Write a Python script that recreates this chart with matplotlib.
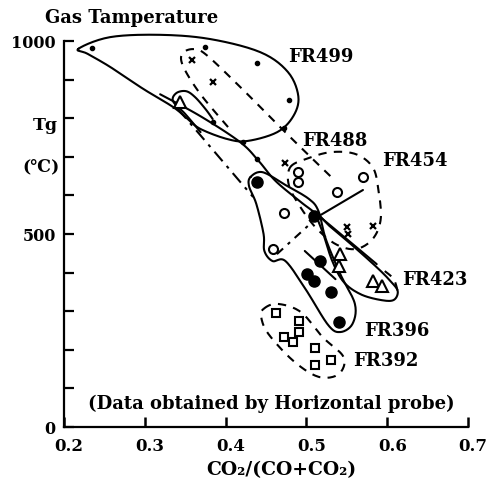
import numpy as np
import matplotlib
matplotlib.use("Agg")
import matplotlib.pyplot as plt
from matplotlib.transforms import ScaledTranslation

# ---------------- data ----------------
# FR499: small dots
fr499_x = [0.235, 0.374, 0.439, 0.479, 0.472, 0.384, 0.421, 0.439]
fr499_y = [982, 984, 943, 847, 775, 790, 738, 694]
# FR488: crosses
fr488_x = [0.359, 0.384, 0.474, 0.550, 0.552, 0.583]
fr488_y = [951, 894, 684, 518, 500, 521]
# FR454: open circles
fr454_x = [0.489, 0.489, 0.570, 0.538, 0.472, 0.459]
fr454_y = [661, 635, 648, 609, 554, 461]
# FR396: filled circles
fr396_x = [0.439, 0.509, 0.517, 0.501, 0.509, 0.530, 0.540]
fr396_y = [635, 547, 430, 396, 378, 350, 272]
# FR423: open triangles
fr423_x = [0.344, 0.542, 0.540, 0.582, 0.594]
fr423_y = [842, 448, 417, 378, 365]
# FR392: open squares
fr392_x = [0.462, 0.491, 0.491, 0.472, 0.483, 0.511, 0.530, 0.511]
fr392_y = [295, 275, 246, 233, 220, 205, 174, 161]

# hand-drawn group outlines (data units)
out499_x = [0.218, 0.257, 0.319, 0.381, 0.443, 0.477, 0.490, 0.484, 0.464, 0.427,
            0.402, 0.369, 0.353, 0.335, 0.298, 0.257, 0.229]
out499_y = [980, 1010, 1016, 1005, 971, 920, 857, 806, 764, 741,
            746, 772, 798, 829, 876, 933, 967]
out396_x = [0.431, 0.446, 0.474, 0.503, 0.515, 0.524, 0.542, 0.560, 0.557, 0.542,
            0.527, 0.499, 0.474, 0.458, 0.448, 0.447, 0.438, 0.429]
out396_y = [648, 660, 627, 591, 559, 487, 396, 319, 267, 246,
            264, 357, 430, 430, 456, 500, 578, 624]
out423_x = [0.512, 0.521, 0.532, 0.546, 0.567, 0.592, 0.608, 0.613, 0.604, 0.587,
            0.555, 0.530]
out423_y = [554, 500, 430, 376, 344, 329, 329, 352, 378, 414, 474, 518]
out454_x = [0.480, 0.499, 0.530, 0.561, 0.582, 0.589, 0.592, 0.582, 0.561, 0.536,
            0.511, 0.490, 0.478]
out454_y = [673, 694, 712, 707, 673, 616, 539, 487, 461, 474, 518, 578, 629]
out392_x = [0.447, 0.464, 0.493, 0.520, 0.546, 0.540, 0.515, 0.484, 0.453, 0.444]
out392_y = [306, 319, 298, 233, 181, 137, 130, 171, 241, 285]
out488_x = [0.403, 0.369, 0.348, 0.346, 0.359, 0.375, 0.418, 0.480, 0.536]
out488_y = [777, 862, 932, 966, 979, 966, 881, 751, 637]
hook_x = [0.369, 0.350, 0.335, 0.339, 0.351, 0.362, 0.375, 0.384]
hook_y = [764, 811, 844, 865, 870, 855, 824, 798]
arc423_x = [0.597, 0.608, 0.613]
arc423_y = [404, 383, 352]

# trend lines
trend_x = [0.319, 0.369, 0.418, 0.441, 0.462, 0.493, 0.517, 0.587]
trend_y = [862, 805, 738, 689, 637, 583, 544, 422]
line2_x = [0.341, 0.434]
line2_y = [824, 596]
line3_x = [0.498, 0.536]
line3_y = [456, 383]
line4_x = [0.515, 0.570]
line4_y = [546, 614]
line4b_x = [0.515, 0.462]
line4b_y = [546, 445]

labels = ["FR499", "FR488", "FR454", "FR423", "FR396", "FR392"]
label_x = [0.478, 0.495, 0.594, 0.619, 0.571, 0.558]
label_y = [961, 743, 692, 383, 251, 174]

xticks = [0.2, 0.3, 0.4, 0.5, 0.6, 0.7]
yticks = list(range(0, 1001, 100))
ytick_labels = ["0", "", "", "", "", "500", "", "", "", "", "1000"]


def cr(x, y, closed=True, n=14):
    P = np.column_stack([x, y]).astype(float)
    m = len(P)
    if not closed:
        P = np.vstack([P[0], P, P[-1]])
    segs = []
    rng = range(m) if closed else range(1, m)
    for i in rng:
        if closed:
            p0, p1, p2, p3 = P[(i - 1) % m], P[i], P[(i + 1) % m], P[(i + 2) % m]
        else:
            p0, p1, p2, p3 = P[i - 1], P[i], P[i + 1], P[i + 2]
        t = np.linspace(0, 1, n, endpoint=False)[:, None]
        segs.append(0.5 * (2 * p1 + (-p0 + p2) * t + (2 * p0 - 5 * p1 + 4 * p2 - p3) * t ** 2
                           + (-p0 + 3 * p1 - 3 * p2 + p3) * t ** 3))
    pts = np.vstack(segs + [segs[0][:1]] if closed else segs + [P[-2][None, :]])
    return pts[:, 0], pts[:, 1]


fam = ["DejaVu Serif"]
fig = plt.figure(figsize=(4.98, 4.81), dpi=100)
ax = fig.add_axes([64 / 498, 1 - 428 / 481, 404 / 498, 386 / 481])

ax.set_xlim(0.2, 0.7)
ax.set_ylim(0, 1000)
for s in ("top", "right"):
    ax.spines[s].set_visible(False)
for s in ("left", "bottom"):
    ax.spines[s].set_linewidth(1.6)

ax.set_xticks(xticks)
ax.set_xticklabels([f"{v:.1f}" for v in xticks], fontfamily=fam, fontweight="bold", fontsize=12)
ax.set_yticks(yticks)
ax.set_yticklabels(ytick_labels, fontfamily=fam, fontweight="bold", fontsize=11.5)
ax.tick_params(axis="x", direction="in", length=7, width=1.8, pad=7)
ax.tick_params(axis="y", direction="in", length=7, width=1.6, pad=6)
shift = ScaledTranslation(5 / 100, 0, fig.dpi_scale_trans)
for lab in ax.get_xticklabels():
    lab.set_transform(lab.get_transform() + shift)

solid = dict(color="black", lw=1.5, clip_on=False, solid_capstyle="round")
dash = dict(color="black", lw=1.5, clip_on=False, linestyle=(0, (4, 3.5)))

# outlines
ax.plot(*cr(out499_x, out499_y), **solid)
ax.plot(*cr(out396_x, out396_y), **solid)
ax.plot(*cr(out423_x, out423_y), **solid)
ax.plot(*cr(out454_x, out454_y), **dash)
ax.plot(*cr(out392_x, out392_y), **dash)
ax.plot(*cr(out488_x, out488_y, closed=False), **dash)
ax.plot(*cr(hook_x, hook_y, closed=False), **solid)
ax.plot(*cr(arc423_x, arc423_y, closed=False), **dash)

# lines
ax.plot(*cr(trend_x, trend_y, closed=False), **solid)
ax.plot(line2_x, line2_y, color="black", lw=1.5, linestyle=(0, (6, 3, 1.5, 3)))
ax.plot(line3_x, line3_y, **solid)
ax.plot(line4_x, line4_y, **solid)
ax.plot(line4b_x, line4b_y, color="black", lw=1.5, linestyle=(0, (4, 3, 1.5, 3)))

# markers
ax.plot(fr499_x, fr499_y, "o", ms=3, color="black", clip_on=False, zorder=5)
ax.plot(fr488_x, fr488_y, "x", ms=4.5, mew=1.6, color="black", zorder=5)
ax.plot(fr454_x, fr454_y, "o", ms=6.5, mfc="white", mec="black", mew=1.5, zorder=5)
ax.plot(fr396_x, fr396_y, "o", ms=8, color="black", zorder=5)
ax.plot(fr423_x, fr423_y, "^", ms=8, mfc="white", mec="black", mew=1.5, zorder=5)
ax.plot(fr392_x, fr392_y, "s", ms=5.5, mfc="white", mec="black", mew=1.5, zorder=5)

for t, x, y in zip(labels, label_x, label_y):
    ax.text(x, y, t, fontfamily=fam, fontweight="bold", fontsize=13, va="center", ha="left")

ax.text(0.457, 62, "(Data obtained by Horizontal probe)", fontfamily=fam,
        fontweight="bold", fontsize=13, ha="center", va="center")

fig.text(45 / 498, 1 - 18 / 481, "Gas Tamperature", fontfamily=fam, fontweight="bold",
         fontsize=13, ha="left", va="center")
fig.text(58 / 498, 1 - 126 / 481, "Tg", fontfamily=fam, fontweight="bold",
         fontsize=12.5, ha="right", va="center")
fig.text(60 / 498, 1 - 167 / 481, "(℃)", fontfamily=fam, fontweight="bold",
         fontsize=12.5, ha="right", va="center")
fig.text(281 / 498, 1 - 470 / 481, "CO₂/(CO+CO₂)", fontfamily=fam, fontweight="bold",
         fontsize=13.5, ha="center", va="center")

fig.savefig("out.png", dpi=100)
